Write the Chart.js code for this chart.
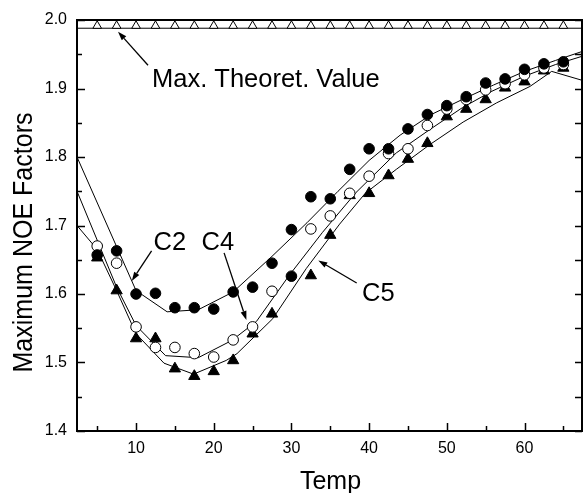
<!DOCTYPE html>
<html>
<head>
<meta charset="utf-8">
<script src="https://cdn.jsdelivr.net/npm/chart.js@4.4.0/dist/chart.umd.min.js"></script>
<style>
html, body { margin: 0; padding: 0; background: #fff; }
</style>
</head>
<body>
<canvas id="noeChart" width="584" height="493"></canvas>
<script>
// measured points (temperature steps of 2.5)
const temps = [5, 7.5, 10, 12.5, 15, 17.5, 20, 22.5, 25, 27.5, 30, 32.5, 35, 37.5, 40, 42.5, 45, 47.5, 50, 52.5, 55, 57.5, 60, 62.5, 65];
const c2Values = [1.657, 1.663, 1.600, 1.601, 1.580, 1.580, 1.578, 1.603, 1.610, 1.645, 1.694, 1.742, 1.739, 1.782, 1.812, 1.812, 1.841, 1.862, 1.875, 1.888, 1.908, 1.914, 1.928, 1.936, 1.939];
const c4Values = [1.670, 1.645, 1.552, 1.522, 1.522, 1.513, 1.508, 1.533, 1.552, 1.604, 1.626, 1.695, 1.714, 1.747, 1.772, 1.805, 1.812, 1.846, 1.870, 1.884, 1.898, 1.907, 1.920, 1.930, 1.935];
const c5Values = [1.653, 1.605, 1.535, 1.535, 1.491, 1.480, 1.487, 1.503, 1.542, 1.571, null, 1.627, 1.686, 1.744, 1.747, 1.773, 1.797, 1.820, 1.859, 1.870, 1.884, 1.901, 1.910, 1.926, 1.930];
const maxTheoretValue = 1.988;

// fitted curves
const c2FitX = [2.4, 10, 14, 18, 22.5, 27.5, 32, 36, 40, 44, 48, 52, 56, 60, 64, 67.4];
const c2FitY = [1.800, 1.605, 1.574, 1.577, 1.603, 1.655, 1.704, 1.750, 1.795, 1.832, 1.862, 1.884, 1.905, 1.925, 1.941, 1.954];
const c4FitX = [2.4, 7.5, 10, 13.8, 18, 22.3, 25.5, 29.7, 34, 38.3, 43.5, 47.8, 52, 55.8, 60, 64, 67.4];
const c4FitY = [1.750, 1.610, 1.554, 1.510, 1.507, 1.532, 1.560, 1.627, 1.690, 1.748, 1.806, 1.840, 1.872, 1.896, 1.918, 1.935, 1.947];
const c5FitX = [2.4, 5, 7.5, 10, 13.6, 17.4, 21.6, 23, 27.6, 31.9, 36.2, 39.5, 43.5, 47.8, 52.1, 56.4, 60.7, 63.5, 67.4];
const c5FitY = [1.700, 1.665, 1.605, 1.542, 1.499, 1.483, 1.503, 1.513, 1.564, 1.637, 1.702, 1.747, 1.782, 1.818, 1.851, 1.879, 1.903, 1.925, 1.912];

const xMin = 2.4, xMax = 67.4;
const xTicks = [10, 20, 30, 40, 50, 60];
const yTicks = [1.4, 1.5, 1.6, 1.7, 1.8, 1.9, 2.0];

const xTitle = 'Temp';
const yTitle = 'Maximum NOE Factors';

// labels with arrows, in data units: [text, textX, textY, tailX, tailY, headX, headY]
const notes = [
    ['Max. Theoret. Value', 12.05, 1.902, 11.54, 1.934, 7.68, 1.983],
    ['C2', 12.26, 1.664, 12.0, 1.663, 9.45, 1.619],
    ['C4', 18.43, 1.664, 21.33, 1.660, 24.2, 1.562],
    ['C5', 39.08, 1.590, 38.4, 1.616, 33.46, 1.649]
];

const pts = vals => temps.map((t, i) => ({x: t, y: vals[i]})).filter(p => p.y !== null);
const fit = (xs, ys) => xs.map((t, i) => ({x: t, y: ys[i]}));

const FONT = "'Liberation Sans', Arial, sans-serif";

// frame box and inward ticks
const frameTicks = {
    id: 'frameTicks',
    afterDatasetsDraw(chart) {
        const {ctx, chartArea: a, scales: {x, y}} = chart;
        ctx.save();
        ctx.strokeStyle = '#000';
        ctx.lineWidth = 1.5;
        ctx.beginPath();
        for (let v = 5; v <= 65; v += 5) {
            const px = Math.round(x.getPixelForValue(v)) + 0.5;
            const len = v % 10 === 0 ? 8 : 5;
            ctx.moveTo(px, a.bottom);
            ctx.lineTo(px, a.bottom - len);
        }
        for (let k = 0; k <= 12; k++) {
            const py = Math.round(y.getPixelForValue(1.4 + k * 0.05)) + 0.5;
            const len = k % 2 === 0 ? 8 : 5;
            ctx.moveTo(a.left, py);
            ctx.lineTo(a.left + len, py);
            ctx.moveTo(a.right, py);
            ctx.lineTo(a.right - 7, py);
        }
        ctx.stroke();
        ctx.lineWidth = 2;
        ctx.strokeRect(a.left, a.top, a.right - a.left, a.bottom - a.top);
        ctx.restore();
    }
};

// axis titles, text labels and arrows
const notePlugin = {
    id: 'notes',
    afterDraw(chart) {
        const {ctx, chartArea: a, scales: {x, y}} = chart;
        ctx.save();
        ctx.fillStyle = '#000';
        ctx.strokeStyle = '#000';

        // axis titles
        ctx.font = '25px ' + FONT;
        ctx.textAlign = 'center';
        ctx.textBaseline = 'alphabetic';
        ctx.fillText(xTitle, (a.left + a.right) / 2 + 1, 489);
        ctx.save();
        ctx.font = '27px ' + FONT;
        ctx.translate(32, (a.top + a.bottom) / 2 + 17);
        ctx.rotate(-Math.PI / 2);
        ctx.scale(260 / ctx.measureText(yTitle).width, 1);
        ctx.fillText(yTitle, 0, 0);
        ctx.restore();

        ctx.font = '25.5px ' + FONT;
        ctx.textAlign = 'left';
        notes.forEach(n => {
            ctx.fillText(n[0], x.getPixelForValue(n[1]), y.getPixelForValue(n[2]));
            const x1 = x.getPixelForValue(n[3]), y1 = y.getPixelForValue(n[4]);
            const x2 = x.getPixelForValue(n[5]), y2 = y.getPixelForValue(n[6]);
            const ang = Math.atan2(y2 - y1, x2 - x1);
            const hl = 9, hw = 3;
            const bx = x2 - hl * Math.cos(ang), by = y2 - hl * Math.sin(ang);
            ctx.lineWidth = 1.3;
            ctx.beginPath();
            ctx.moveTo(x1, y1);
            ctx.lineTo(bx, by);
            ctx.stroke();
            ctx.beginPath();
            ctx.moveTo(x2, y2);
            ctx.lineTo(bx + hw * Math.sin(ang), by - hw * Math.cos(ang));
            ctx.lineTo(bx - hw * Math.sin(ang), by + hw * Math.cos(ang));
            ctx.closePath();
            ctx.fill();
        });
        ctx.restore();
    }
};

const fitStyle = {
    showLine: true,
    borderColor: '#000',
    borderWidth: 1,
    pointRadius: 0,
    tension: 0,
    fill: false
};

new Chart(document.getElementById('noeChart'), {
    type: 'scatter',
    data: {
        datasets: [
            {
                label: 'C2',
                data: pts(c2Values),
                pointStyle: 'circle',
                pointRadius: 5.3,
                backgroundColor: '#000',
                borderColor: '#000',
                borderWidth: 1
            },
            {
                label: 'C4',
                data: pts(c4Values),
                pointStyle: 'circle',
                pointRadius: 5.3,
                backgroundColor: temps.map(t => t === 30 ? '#000' : '#fff'),
                borderColor: '#000',
                borderWidth: 1
            },
            {
                label: 'C5',
                data: pts(c5Values),
                pointStyle: 'triangle',
                pointRadius: 6.5,
                backgroundColor: '#000',
                borderColor: '#000',
                borderWidth: 1
            },
            {
                label: 'Max',
                data: temps.map(t => ({x: t, y: maxTheoretValue + 0.0035})),
                pointStyle: 'triangle',
                pointRadius: 5,
                backgroundColor: '#fff',
                borderColor: '#000',
                borderWidth: 1
            },
            Object.assign({label: 'MaxLine', data: [{x: xMin, y: maxTheoretValue}, {x: xMax, y: maxTheoretValue}]}, fitStyle),
            Object.assign({label: 'C2 fit', data: fit(c2FitX, c2FitY)}, fitStyle),
            Object.assign({label: 'C4 fit', data: fit(c4FitX, c4FitY)}, fitStyle),
            Object.assign({label: 'C5 fit', data: fit(c5FitX, c5FitY)}, fitStyle)
        ]
    },
    options: {
        responsive: false,
        animation: false,
        devicePixelRatio: 1,
        layout: {autoPadding: false, padding: {top: 20, right: 2, left: 0, bottom: 0}},
        plugins: {
            legend: {display: false},
            tooltip: {enabled: false}
        },
        scales: {
            x: {
                type: 'linear',
                min: xMin,
                max: xMax,
                afterBuildTicks: s => { s.ticks = xTicks.map(v => ({value: v})); },
                afterFit: s => { s.height = 62; s.paddingLeft = 0; s.paddingRight = 0; },
                grid: {display: false, drawTicks: false},
                border: {display: false},
                ticks: {
                    padding: 8,
                    color: '#000',
                    font: {family: FONT, size: 16},
                    callback: v => String(v)
                }
            },
            y: {
                type: 'linear',
                min: 1.4,
                max: 2.0,
                afterBuildTicks: s => { s.ticks = yTicks.map(v => ({value: v})); },
                afterFit: s => { s.width = 77; s.paddingTop = 0; s.paddingBottom = 0; },
                grid: {display: false, drawTicks: false},
                border: {display: false},
                ticks: {
                    padding: 10,
                    color: '#000',
                    font: {family: FONT, size: 16},
                    callback: v => v.toFixed(1)
                }
            }
        }
    },
    plugins: [frameTicks, notePlugin]
});
</script>
</body>
</html>
